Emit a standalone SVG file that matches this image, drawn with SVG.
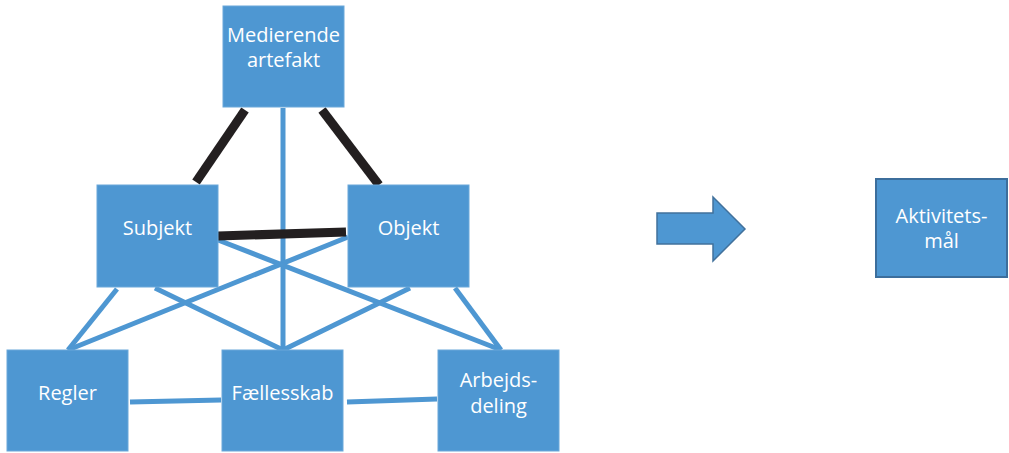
<svg xmlns="http://www.w3.org/2000/svg" width="1009" height="453" viewBox="0 0 1009 453">
<style>
.box{fill:#4E97D2;stroke:#6AA8DA;stroke-width:1}
.goal{fill:#4E97D2;stroke:#3C6E9C;stroke-width:2}
.t{font-family:"Open Sans","Liberation Sans",sans-serif;font-size:20px;fill:#FFFFFF;text-anchor:middle}
.bl{stroke:#4E97D2;stroke-width:5;fill:none}
.bk{stroke:#231F20;stroke-width:9;fill:none}
</style>
<rect width="1009" height="453" fill="#FFFFFF"/>
<g id="connectors">
<line class="bl" x1="283" y1="108" x2="283" y2="350"/>
<line class="bl" x1="117" y1="289" x2="68" y2="350"/>
<line class="bl" x1="68" y1="350" x2="348" y2="237"/>
<line class="bl" x1="218" y1="240" x2="501" y2="350"/>
<line class="bl" x1="155" y1="288" x2="283" y2="350"/>
<line class="bl" x1="410" y1="288" x2="283" y2="350"/>
<line class="bl" x1="455" y1="288" x2="501" y2="350"/>
<line class="bl" x1="130" y1="402" x2="221" y2="400"/>
<line class="bl" x1="347" y1="402" x2="437" y2="399"/>
<line class="bk" x1="245" y1="110" x2="196" y2="182"/>
<line class="bk" x1="322" y1="110" x2="379" y2="185"/>
<line class="bk" x1="218" y1="236" x2="346" y2="232"/>
</g>
<g id="medierende-artefakt">
<rect class="box" x="223" y="6" width="121" height="101"/>
<text class="t" x="283.5" y="42">Medierende</text>
<text class="t" x="283.5" y="67">artefakt</text>
</g>
<g id="subjekt">
<rect class="box" x="97" y="185" width="121" height="102"/>
<text class="t" x="157.5" y="235">Subjekt</text>
</g>
<g id="objekt">
<rect class="box" x="348" y="185" width="121" height="102"/>
<text class="t" x="408.5" y="235">Objekt</text>
</g>
<g id="regler">
<rect class="box" x="7" y="350" width="121" height="101"/>
<text class="t" x="67.5" y="400">Regler</text>
</g>
<g id="faellesskab">
<rect class="box" x="222" y="350" width="121" height="101"/>
<text class="t" x="282.5" y="400">Fællesskab</text>
</g>
<g id="arbejdsdeling">
<rect class="box" x="438" y="350" width="121" height="101"/>
<text class="t" x="498.5" y="387">Arbejds-</text>
<text class="t" x="498.5" y="413">deling</text>
</g>
<g id="arrow">
<polygon points="657,213 713,213 713,197 745,229 713,261 713,244 657,244" fill="#4E97D2" stroke="#41719C" stroke-width="1.5"/>
</g>
<g id="aktivitetsmaal">
<rect class="goal" x="876" y="179" width="131" height="98"/>
<text class="t" x="941.5" y="223">Aktivitets-</text>
<text class="t" x="941.5" y="248">mål</text>
</g>
</svg>
